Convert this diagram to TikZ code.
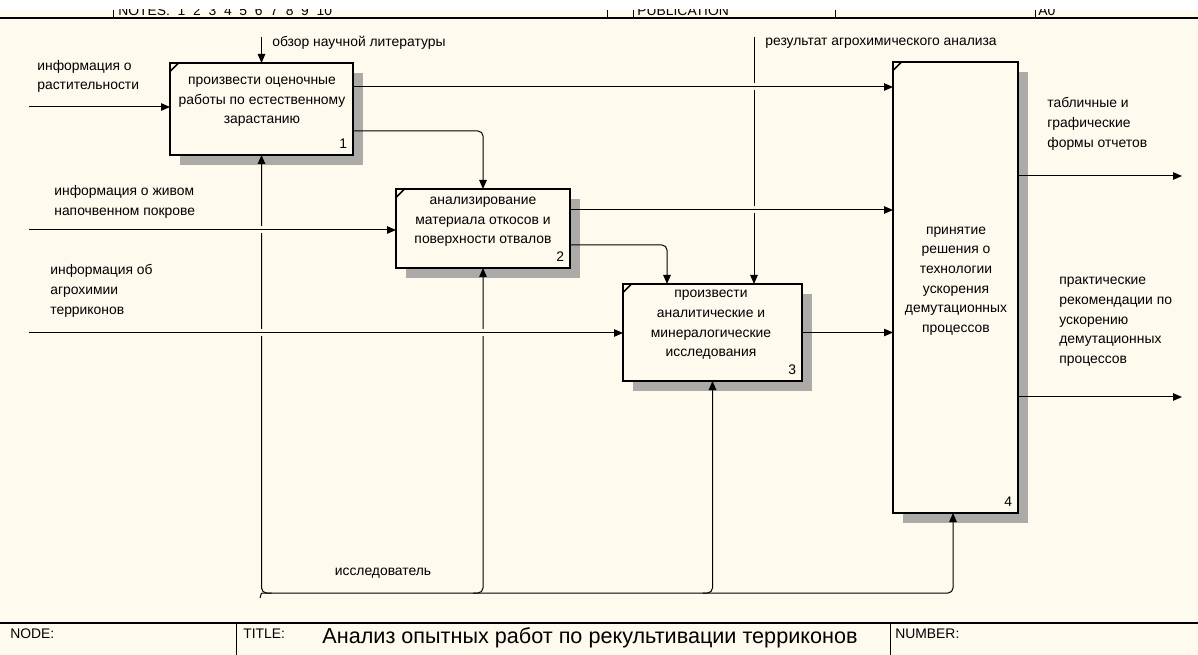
\documentclass[tikz,border=0pt]{standalone}
\usepackage{fontspec}
\setmainfont{Liberation Sans}
\usepackage{xcolor}
\usepackage{tikz}
\usetikzlibrary{arrows.meta, positioning, shadows}
\definecolor{paperbg}{RGB}{255,250,238}
\definecolor{hatchgray}{RGB}{172,170,166}

\begin{document}
\begin{tikzpicture}[x=0.2mm, y=-0.2mm, font=\fontsize{7.9}{11.2}\selectfont,
    func_box/.style={draw, line width=0.45mm, fill=paperbg, inner sep=0pt, outer sep=0pt, anchor=north west,
        general shadow={fill=hatchgray, shadow xshift=2mm, shadow yshift=-2mm}},
    flow/.style={line width=0.2mm, -{Triangle[length=1.8mm, width=1.5mm]}},
    wire/.style={line width=0.2mm},
    jump/.style={preaction={draw=paperbg, line width=1.4mm, -, shorten <=3mm, shorten >=3mm}},
    lbl/.style={inner sep=0pt, align=left, anchor=west},
    box_txt/.style={inner sep=0pt, align=center},
    box_num/.style={inner sep=0pt, anchor=south east}]
            \useasboundingbox (0,0) rectangle (1198,655);
            \fill[white] (0,0) rectangle (1198,10);
            \fill[paperbg] (0,10) rectangle (1198,655);

            \begin{scope}
                \clip (0,10) rectangle (1198,18);
                \node (notes) [inner sep=0pt, anchor=base west] at (118,15.5) {NOTES:\ \ 1\ \ 2\ \ 3\ \ 4\ \ 5\ \ 6\ \ 7\ \ 8\ \ 9\ \ 10};
                \node (publication) [inner sep=0pt, anchor=base west] at (637,15.5) {PUBLICATION};
                \node (sheet_size) [inner sep=0pt, anchor=base west] at (1038,15.5) {A0};
            \end{scope}
            \foreach \x in {113,607,633,835,1035}
                \draw[wire] (\x,10) -- (\x,18);
            \draw[line width=0.3mm] (0,18) -- (1198,18);

            \draw[line width=0.3mm] (0,623) -- (1198,623);
            \draw[wire] (236,623) -- (236,655) (890,623) -- (890,655);
            \node (node_field) [lbl] at (10,634) {NODE:};
            \node (title_field) [lbl] at (243,634) {TITLE:};
            \node (number_field) [lbl] at (895,634) {NUMBER:};
            \node (diagram_title) [inner sep=0pt, font=\fontsize{12.3}{14}\selectfont] at (590,638) {Анализ опытных работ по рекультивации терриконов};

            \node (box1) [func_box, minimum width=36.6mm, minimum height=18.4mm] at (170,63) {};
            \node (box2) [func_box, minimum width=34.8mm, minimum height=15.8mm] at (396,189) {};
            \node (box3) [func_box, minimum width=35.8mm, minimum height=19.4mm] at (623,284) {};
            \node (box4) [func_box, minimum width=25mm, minimum height=90.2mm] at (893,62) {};
            \foreach \b in {box1,box2,box3,box4}
                \draw[line width=0.3mm] ([yshift=-1.7mm]\b.north west) -- ([xshift=1.7mm]\b.north west);

            \node (box1_text) [box_txt] at (262,102) {произвести оценочные\\работы по естественному\\зарастанию};
            \node (box2_text) [box_txt] at (483,222) {анализирование\\материала откосов и\\поверхности отвалов};
            \node (box3_text) [box_txt] at (711,325) {произвести\\аналитические и\\минералогические\\исследования};
            \node (box4_text) [box_txt] at (956,281) {принятие\\решения о\\технологии\\ускорения\\демутационных\\процессов};
            \node (box1_num) [box_num] at ([xshift=-1.1mm, yshift=1.2mm]box1.south east) {1};
            \node (box2_num) [box_num] at ([xshift=-1.1mm, yshift=1.2mm]box2.south east) {2};
            \node (box3_num) [box_num] at ([xshift=-1.1mm, yshift=1.2mm]box3.south east) {3};
            \node (box4_num) [box_num] at ([xshift=-1.1mm, yshift=1.2mm]box4.south east) {4};

            \coordinate (top_row) at (0,37);
            \coordinate (res_src) at (754,37);
            \coordinate (veg_in) at (29,107);
            \coordinate (cover_in) at (29,230);
            \coordinate (agro_in) at (29,333);
            \coordinate (row_a) at (0,87);
            \coordinate (row_b) at (0,131);
            \coordinate (row_c) at (0,210);
            \coordinate (row_d) at (0,245);
            \coordinate (tab_out) at (1182,176);
            \coordinate (prac_out) at (1182,397);
            \coordinate (mech_row) at (0,593);
            \coordinate (mech_tail) at (260,598);
            \coordinate (b3_ctl) at ([xshift=8.8mm]box3.north west);
            \coordinate (b1_mech) at (box1.south |- mech_row);
            \coordinate (b2_mech) at (box2.south |- mech_row);
            \coordinate (b3_mech) at (box3.south |- mech_row);
            \coordinate (b4_mech) at ([xshift=-0.5mm]box4.south);

            \draw[flow] (box1.north |- top_row) -- (box1.north);
            \draw[flow] (res_src) -- (res_src |- box3.north);
            \draw[flow] (veg_in) -- (veg_in -| box1.west);

            \draw[wire] (b1_mech) -- (mech_tail);
            \draw[flow, rounded corners=1mm] ([xshift=2mm]b1_mech) -- (b1_mech) -- (box1.south);
            \draw[flow, rounded corners=1mm] (b1_mech) -- (b4_mech |- mech_row) -- (b4_mech);
            \draw[flow, rounded corners=1mm] ([xshift=-2mm]b2_mech) -- (b2_mech) -- (box2.south);
            \draw[flow, rounded corners=1mm] ([xshift=-2mm]b3_mech) -- (b3_mech) -- (box3.south);

            \draw[flow, rounded corners=1mm] (box1.east |- row_b) -| (box2.north);
            \draw[flow, rounded corners=1mm] (box2.east |- row_d) -| (b3_ctl);

            \draw[flow, jump] (cover_in) -- (cover_in -| box2.west);
            \draw[flow, jump] (agro_in) -- (agro_in -| box3.west);
            \draw[flow, jump] (box1.east |- row_a) -- (box4.west |- row_a);
            \draw[flow, jump] (box2.east |- row_c) -- (box4.west |- row_c);
            \draw[flow] (box3.east) -- (box3.east -| box4.west);
            \draw[flow] (tab_out -| box4.east) -- (tab_out);
            \draw[flow] (prac_out -| box4.east) -- (prac_out);

            \node (lit_label) [lbl] at (272,43) {обзор научной литературы};
            \node (res_label) [lbl] at (765,43) {результат агрохимического анализа};
            \node (veg_label) [lbl] at (37,76.5) {информация о\\растительности};
            \node (cover_label) [lbl] at (54,202) {информация о живом\\напочвенном покрове};
            \node (agro_label) [lbl] at (50,291) {информация об\\агрохимии\\терриконов};
            \node (tab_label) [lbl] at (1047,124) {табличные и\\графические\\формы отчетов};
            \node (prac_label) [lbl] at (1059,322) {практические\\рекомендации по\\ускорению\\демутационных\\процессов};
            \node (mech_label) [inner sep=0pt] at (383,573) {исследователь};
\end{tikzpicture}
\end{document}
